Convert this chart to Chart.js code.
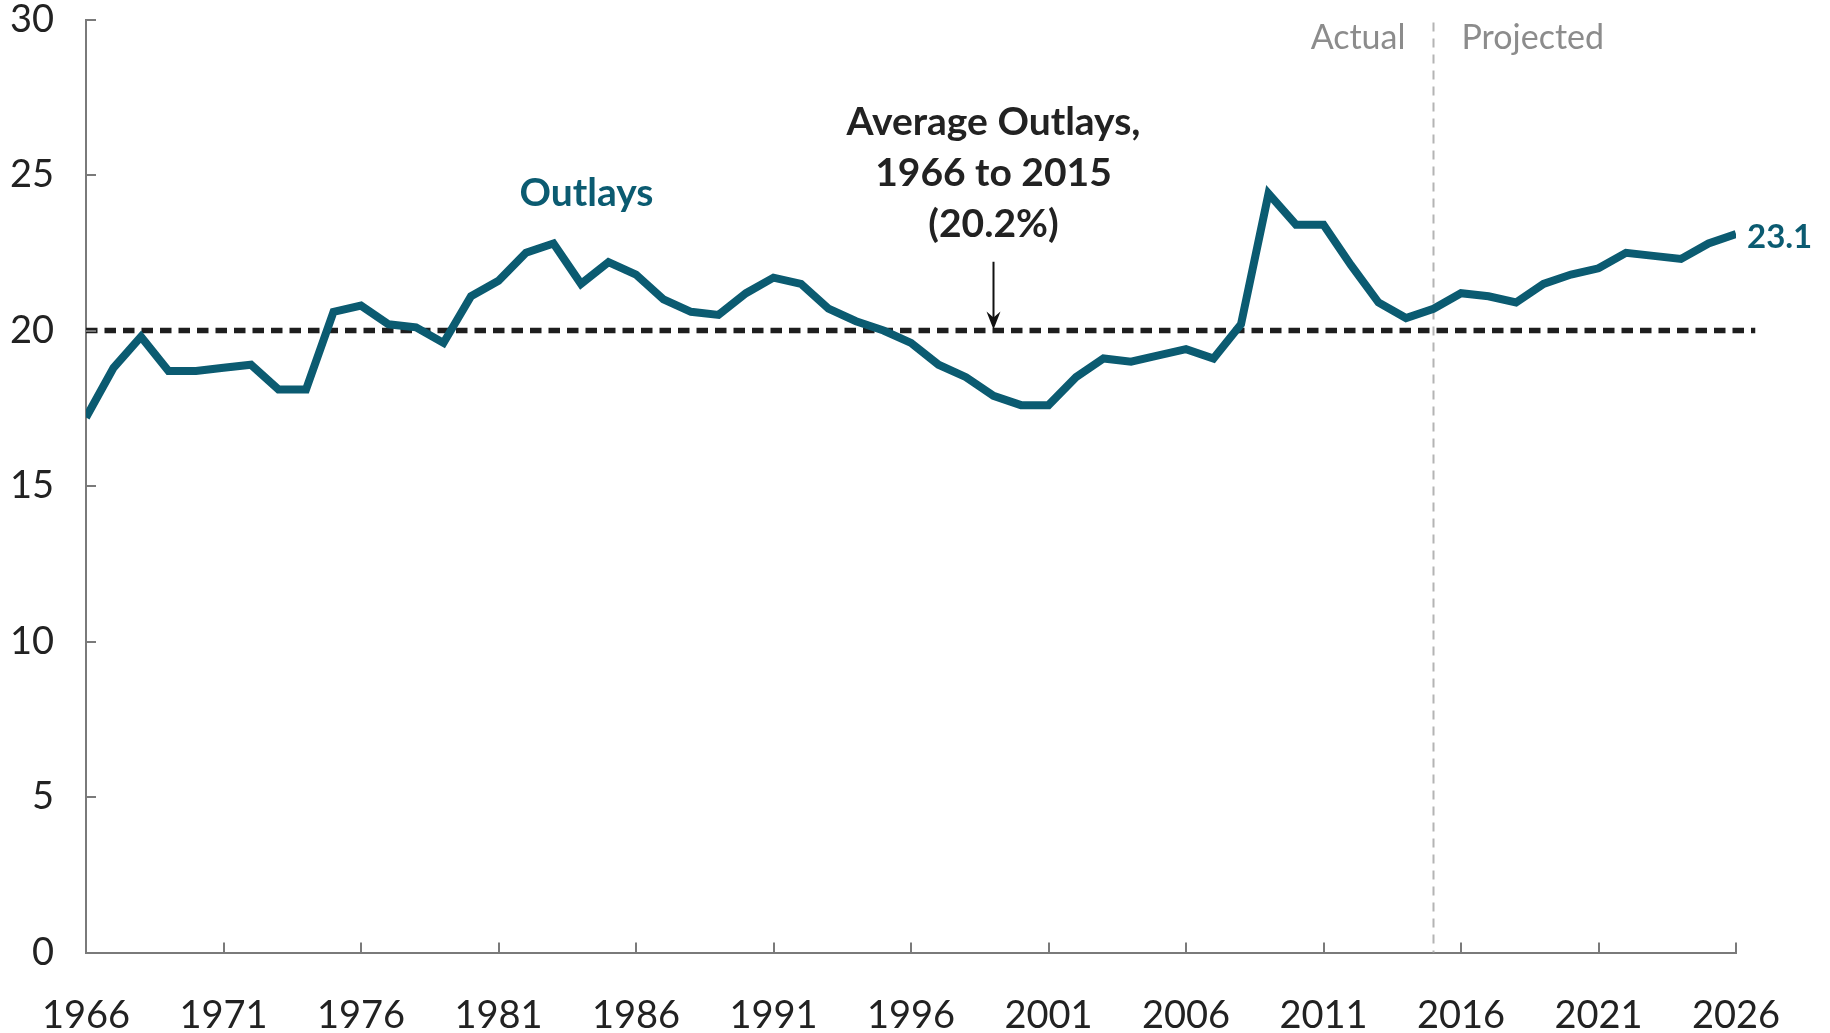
<!DOCTYPE html>
<html>
<head>
<meta charset="utf-8">
<script src="https://cdn.jsdelivr.net/npm/chart.js@4.4.1/dist/chart.umd.min.js"></script>
<style>
  html, body { margin: 0; padding: 0; background: #fff; }
</style>
</head>
<body>
<canvas id="grafico" width="1830" height="1033"></canvas>
<script>
/* ======================================================
   DADOS
====================================================== */
const anos = [
  1966, 1967, 1968, 1969, 1970, 1971, 1972, 1973, 1974, 1975,
  1976, 1977, 1978, 1979, 1980, 1981, 1982, 1983, 1984, 1985,
  1986, 1987, 1988, 1989, 1990, 1991, 1992, 1993, 1994, 1995,
  1996, 1997, 1998, 1999, 2000, 2001, 2002, 2003, 2004, 2005,
  2006, 2007, 2008, 2009, 2010, 2011, 2012, 2013, 2014, 2015,
  2016, 2017, 2018, 2019, 2020, 2021, 2022, 2023, 2024, 2025,
  2026
];

const outlays = [
  17.2, 18.8, 19.8, 18.7, 18.7, 18.8, 18.9, 18.1, 18.1, 20.6,
  20.8, 20.2, 20.1, 19.6, 21.1, 21.6, 22.5, 22.8, 21.5, 22.2,
  21.8, 21.0, 20.6, 20.5, 21.2, 21.7, 21.5, 20.7, 20.3, 20.0,
  19.6, 18.9, 18.5, 17.9, 17.6, 17.6, 18.5, 19.1, 19.0, 19.2,
  19.4, 19.1, 20.2, 24.4, 23.4, 23.4, 22.1, 20.9, 20.4, 20.7,
  21.2, 21.1, 20.9, 21.5, 21.8, 22.0, 22.5, 22.4, 22.3, 22.8,
  23.1
];

// linha da media (como desenhada) e o seu alcance
const mediaValor = 20.0;
const mediaDe = 1966;
const mediaAte = 2026.7;

// divisao real / projetado
const anoDivisao = 2015;

const xTicks = [1966, 1971, 1976, 1981, 1986, 1991, 1996, 2001, 2006, 2011, 2016, 2021, 2026];
const yTicks = [0, 5, 10, 15, 20, 25, 30];

/* ======================================================
   CORES / FONTES
====================================================== */
const CORES = {
  linha: "#0b5b71",
  media: "#1e1e1e",
  eixo: "#7a7a7a",
  texto: "#222222",
  cinza: "#8c8c8c",
  divisao: "#b4b4b4"
};
const FONTE = 'Lato, "Open Sans", sans-serif';

/* ======================================================
   PLUGIN: marcas, divisao e anotacoes
====================================================== */
const extras = {
  id: "extras",
  beforeDatasetsDraw(chart) {
    const { ctx, scales: { x, y } } = chart;
    const px = x.getPixelForValue(anoDivisao);
    ctx.save();
    ctx.strokeStyle = CORES.divisao;
    ctx.lineWidth = 2;
    ctx.setLineDash([9, 7]);
    ctx.beginPath();
    ctx.moveTo(px, y.getPixelForValue(29.9));
    ctx.lineTo(px, y.getPixelForValue(0));
    ctx.stroke();
    ctx.restore();
  },
  afterDatasetsDraw(chart) {
    const { ctx, scales: { x, y } } = chart;
    ctx.save();

    // marcas para dentro
    ctx.strokeStyle = CORES.eixo;
    ctx.lineWidth = 2;
    ctx.beginPath();
    yTicks.forEach(v => {
      const py = Math.round(y.getPixelForValue(v));
      ctx.moveTo(x.left, py);
      ctx.lineTo(x.left + 10, py);
    });
    xTicks.forEach(v => {
      const p = Math.round(x.getPixelForValue(v));
      ctx.moveTo(p, y.bottom);
      ctx.lineTo(p, y.bottom - 10);
    });
    ctx.stroke();

    // rotulo da serie
    ctx.fillStyle = CORES.linha;
    ctx.font = "bold 39px " + FONTE;
    ctx.textAlign = "center";
    ctx.textBaseline = "alphabetic";
    ctx.fillText("Outlays", x.getPixelForValue(1984.2), y.getPixelForValue(24.0));

    // ultimo valor
    const ult = outlays[outlays.length - 1];
    ctx.font = "bold 33px " + FONTE;
    ctx.textAlign = "left";
    ctx.fillText(ult.toFixed(1), x.getPixelForValue(anos[anos.length - 1]) + 11, y.getPixelForValue(ult) + 14);

    // anotacao da media
    ctx.fillStyle = CORES.texto;
    ctx.font = "bold 39px " + FONTE;
    ctx.textAlign = "center";
    const ax = x.getPixelForValue(1999);
    const linhas = ["Average Outlays,", "1966 to 2015", "(20.2%)"];
    const y0 = y.getPixelForValue(26.3);
    linhas.forEach((t, i) => ctx.fillText(t, ax, y0 + i * 51));

    // seta
    const ya = y.getPixelForValue(22.21);
    const yb = y.getPixelForValue(mediaValor) - 1;
    ctx.strokeStyle = "#111";
    ctx.lineWidth = 2;
    ctx.setLineDash([]);
    ctx.beginPath();
    ctx.moveTo(ax, ya);
    ctx.lineTo(ax, yb - 10);
    ctx.stroke();
    ctx.fillStyle = "#111";
    ctx.beginPath();
    ctx.moveTo(ax - 7, yb - 18);
    ctx.lineTo(ax, yb);
    ctx.lineTo(ax + 7, yb - 18);
    ctx.lineTo(ax, yb - 12);
    ctx.closePath();
    ctx.fill();

    // real / projetado
    const pd = x.getPixelForValue(anoDivisao);
    const yl = y.getPixelForValue(29.05);
    ctx.fillStyle = CORES.cinza;
    ctx.font = "34px " + FONTE;
    ctx.textAlign = "right";
    ctx.fillText("Actual", pd - 28, yl);
    ctx.textAlign = "left";
    ctx.fillText("Projected", pd + 28, yl);

    ctx.restore();
  }
};

/* ======================================================
   GRAFICO
====================================================== */
const pontos = anos.map((a, i) => ({ x: a, y: outlays[i] }));
const pontosMedia = [{ x: mediaDe, y: mediaValor }, { x: mediaAte, y: mediaValor }];

new Chart(document.getElementById("grafico"), {
  type: "line",
  data: {
    datasets: [
      {
        label: "Outlays",
        data: pontos,
        borderColor: CORES.linha,
        borderWidth: 8,
        borderJoinStyle: "miter",
        pointRadius: 0,
        tension: 0
      },
      {
        label: "Average",
        data: pontosMedia,
        borderColor: CORES.media,
        borderWidth: 5.5,
        borderDash: [11.5, 7],
        pointRadius: 0,
        clip: false
      }
    ]
  },
  options: {
    responsive: false,
    animation: false,
    layout: { padding: { left: 0, top: 19.5, right: 94, bottom: 0 } },
    plugins: { legend: { display: false }, tooltip: { enabled: false } },
    scales: {
      x: {
        type: "linear",
        min: 1966,
        max: 2026,
        afterBuildTicks: s => { s.ticks = xTicks.map(v => ({ value: v })); },
        afterFit: s => { s.height = 80.5; s.paddingLeft = 0; s.paddingRight = 0; },
        grid: { display: false, drawTicks: false },
        border: { display: true, color: CORES.eixo, width: 2 },
        ticks: {
          padding: 44,
          color: CORES.texto,
          font: { family: FONTE, size: 38, lineHeight: 1 },
          maxRotation: 0,
          autoSkip: false,
          callback: v => String(v)
        }
      },
      y: {
        min: 0,
        max: 30,
        afterBuildTicks: s => { s.ticks = yTicks.map(v => ({ value: v })); },
        afterFit: s => { s.width = 86; s.paddingTop = 0; s.paddingBottom = 0; },
        grid: { display: false, drawTicks: false },
        border: { display: true, color: CORES.eixo, width: 2 },
        ticks: {
          padding: 32,
          color: CORES.texto,
          font: { family: FONTE, size: 38, lineHeight: 1 },
          callback: v => String(v)
        }
      }
    }
  },
  plugins: [extras]
});
</script>
</body>
</html>
